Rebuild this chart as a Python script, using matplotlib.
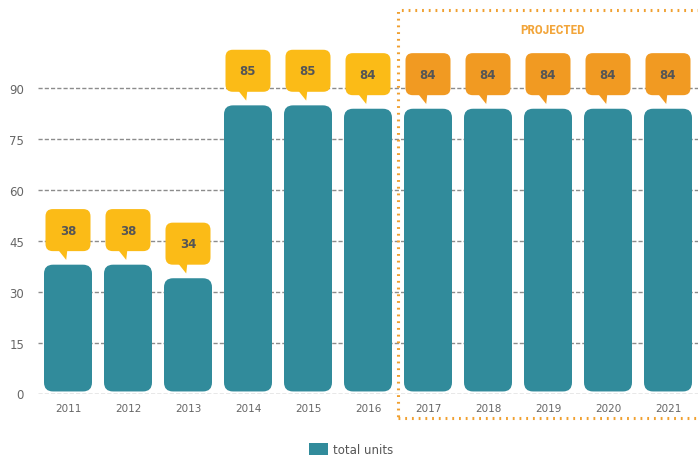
import matplotlib
matplotlib.use('Agg')
import matplotlib.pyplot as plt
from matplotlib import font_manager
from matplotlib.patches import FancyBboxPatch, Polygon, Rectangle, Patch

# chart data
years = ['2011', '2012', '2013', '2014', '2015', '2016',
         '2017', '2018', '2019', '2020', '2021']
units = [38, 38, 34, 85, 85, 84, 84, 84, 84, 84, 84]
projected = [False] * 6 + [True] * 5
y_ticks = [0, 15, 30, 45, 60, 75, 90]

TEAL = '#318b9b'
YELLOW = '#fbbb17'
ORANGE = '#f19a22'
LABEL = '#555555'


def narrow_font():
    """Pick a condensed family if one is installed"""
    for fam in ['Liberation Sans Narrow', 'DejaVu Sans Condensed', 'Roboto Condensed']:
        try:
            font_manager.findfont(fam, fallback_to_default=False)
            return fam, 9.5
        except ValueError:
            pass
    return 'Roboto', 8


fig = plt.figure(figsize=(6.98, 4.60), dpi=100)
# pixel layout: y=0 at 394.5px from top, 3.39 px per unit; x from 38px to right edge
ax = fig.add_axes([38 / 698, 65.5 / 460, 660 / 698, 116 * 3.39 / 460])
ax.set_xlim(-0.5, 10.5)
ax.set_ylim(0, 116)

# aspect of one y unit against one x unit, so rounded corners stay round
px_x = 60.0
px_y = 3.39
aspect = px_x / px_y

for yv in y_ticks:
    ax.axhline(yv, color='#8c8c8c', lw=1.0, ls=(0, (3, 1.5)), zorder=1)

bar_w = 48 / px_x
for i, v in enumerate(units):
    bar = FancyBboxPatch((i - bar_w / 2, 0.6), bar_w, v - 0.6,
                         boxstyle='round,pad=0,rounding_size=0.15',
                         mutation_aspect=aspect, fc=TEAL, ec='none', zorder=2)
    ax.add_patch(bar)

    # speech bubble with the value
    col = ORANGE if projected[i] else YELLOW
    bw = 45 / px_x
    bh = 12.4
    b0 = v + 4.0
    bub = FancyBboxPatch((i - bw / 2, b0), bw, bh,
                         boxstyle='round,pad=0,rounding_size=0.12',
                         mutation_aspect=aspect, fc=col, ec='none', zorder=3)
    ax.add_patch(bub)
    tail = Polygon([(i - 0.17, b0 + 0.5), (i - 0.01, b0 + 0.5), (i - 0.03, v + 1.4)],
                   closed=True, fc=col, ec='none', zorder=3)
    ax.add_patch(tail)
    ax.text(i, b0 + bh / 2, str(v), ha='center', va='center', fontsize=8.5,
            fontweight='bold', color=LABEL, zorder=4)

# projected region frame
first_proj = projected.index(True)
frame = Rectangle((first_proj - 0.5, -7.2), 6.0, 120.3, fill=False, ec='#f0a030',
                  lw=2.2, ls=(0, (0.6, 1.6)), clip_on=False, zorder=5)
ax.add_patch(frame)
fam, fs = narrow_font()
ax.text(8.08, 107.5, 'PROJECTED', ha='center', va='center', fontsize=fs,
        color='#f2a53a', family=[fam, 'DejaVu Sans'], fontweight='bold')

ax.set_xticks(range(len(years)))
ax.set_xticklabels(years)
ax.set_yticks(y_ticks)
ax.tick_params(axis='x', length=0, pad=7, labelsize=7.5, labelcolor='#666666')
ax.tick_params(axis='y', length=0, pad=10, labelsize=8.5, labelcolor='#666666')
for s in ax.spines.values():
    s.set_visible(False)

fig.legend(handles=[Patch(fc=TEAL, ec='none', label='total units')],
           loc='center', bbox_to_anchor=(0.503, 0.02), frameon=False,
           fontsize=8.5, handlelength=1.6, handleheight=1.2,
           handletextpad=0.4, labelcolor='#555555')

fig.savefig('out.png', dpi=100)
